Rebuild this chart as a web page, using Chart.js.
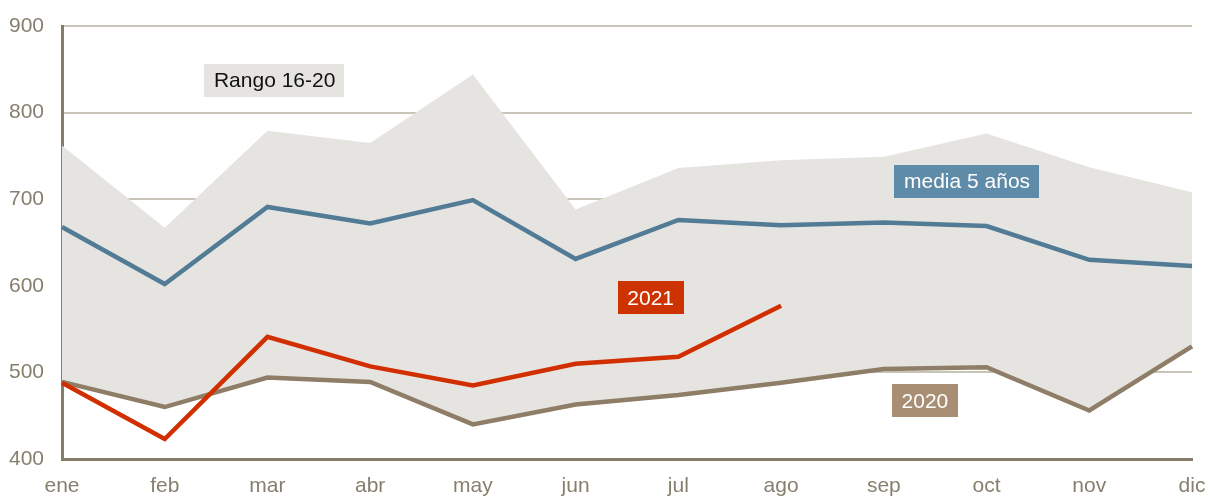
<!DOCTYPE html>
<html lang="es">
<head>
  <meta charset="UTF-8" />
  <title>Rango 16-20</title>
  <script src="https://cdn.jsdelivr.net/npm/chart.js"></script>
  <style>
    html, body { margin: 0; padding: 0; background: #fff; }
    #wrap { width: 1208px; height: 496px; }
  </style>
</head>
<body>
  <div id="wrap"><canvas id="grafico" width="1208" height="496"></canvas></div>

  <script>
    // datos
    const meses = ['ene', 'feb', 'mar', 'abr', 'may', 'jun', 'jul', 'ago', 'sep', 'oct', 'nov', 'dic'];
    const rangoMax = [762, 667, 779, 765, 844, 688, 736, 745, 749, 776, 737, 708];
    const rangoMin = [489, 460, 494, 489, 440, 463, 474, 488, 503, 505, 456, 530];
    const media5 = [668, 602, 691, 672, 699, 631, 676, 670, 673, 669, 630, 623];
    const serie2020 = [489, 460, 494, 489, 440, 463, 474, 488, 504, 506, 456, 530];
    const serie2021 = [488, 423, 541, 507, 485, 510, 518, 577];

    const fuente = '"Liberation Sans", Arial, sans-serif';
    const colorEje = '#857d6a';
    const colorTexto = '#877f6d';

    // etiquetas en cajas (posición en índice de mes / valor)
    const etiquetas = [
      { texto: 'Rango 16-20', x: 2.07, y: 837, fondo: '#e6e4e0', color: '#111111' },
      { texto: 'media 5 años', x: 8.81, y: 721, fondo: '#5e8ba7', color: '#ffffff' },
      { texto: '2021', x: 5.73, y: 586, fondo: '#cc3300', color: '#ffffff' },
      { texto: '2020', x: 8.40, y: 467, fondo: '#a88f74', color: '#ffffff' }
    ];

    const pluginEtiquetas = {
      id: 'etiquetas',
      afterDatasetsDraw(chart) {
        const ctx = chart.ctx;
        const sx = chart.scales.x, sy = chart.scales.y;
        ctx.save();
        ctx.font = '21px ' + fuente;
        ctx.textAlign = 'center';
        ctx.textBaseline = 'middle';
        etiquetas.forEach(e => {
          const cx = sx.getPixelForValue(e.x);
          const cy = sy.getPixelForValue(e.y);
          const w = ctx.measureText(e.texto).width + 19;
          const h = 33;
          ctx.fillStyle = e.fondo;
          ctx.fillRect(Math.round(cx - w / 2), Math.round(cy - h / 2), Math.round(w), h);
          ctx.fillStyle = e.color;
          ctx.fillText(e.texto, cx, cy + 1);
        });
        ctx.restore();
      }
    };

    const linea = (datos, color, orden) => ({
      data: datos,
      borderColor: color,
      borderWidth: 4.5,
      pointRadius: 0,
      fill: false,
      tension: 0,
      order: orden
    });

    new Chart(document.getElementById('grafico'), {
      type: 'line',
      data: {
        labels: meses,
        datasets: [
          {
            data: rangoMax,
            borderWidth: 0,
            borderColor: 'rgba(0,0,0,0)',
            backgroundColor: '#e6e4e0',
            pointRadius: 0,
            fill: '+1',
            order: 10
          },
          {
            data: rangoMin,
            borderWidth: 0,
            borderColor: 'rgba(0,0,0,0)',
            pointRadius: 0,
            fill: false,
            order: 9
          },
          linea(serie2020, '#8e7d67', 3),
          linea(media5, '#527b96', 2),
          linea(serie2021, '#d12f00', 1)
        ]
      },
      options: {
        responsive: false,
        animation: false,
        layout: { padding: { top: 26, right: 16, left: 0, bottom: 0 } },
        plugins: {
          legend: { display: false },
          tooltip: { enabled: false },
          filler: { drawTime: 'beforeDatasetsDraw' }
        },
        scales: {
          x: {
            offset: false,
            grid: { display: false, drawTicks: false },
            border: { color: colorEje, width: 3 },
            ticks: {
              color: colorTexto,
              font: { family: fuente, size: 21 },
              padding: 15,
              maxRotation: 0,
              autoSkip: false
            },
            afterFit: s => {
              s.height = 37;
              s.paddingLeft = 0;
              s.paddingRight = 0;
            }
          },
          y: {
            min: 400,
            max: 900,
            grid: { color: '#c9c4b8', lineWidth: 2, drawTicks: false },
            border: { color: colorEje, width: 3 },
            ticks: {
              stepSize: 100,
              color: colorTexto,
              font: { family: fuente, size: 21 },
              padding: 18
            },
            afterFit: s => {
              s.width = 62;
              s.paddingTop = 0;
              s.paddingBottom = 0;
            }
          }
        }
      },
      plugins: [pluginEtiquetas]
    });
  </script>
</body>
</html>
